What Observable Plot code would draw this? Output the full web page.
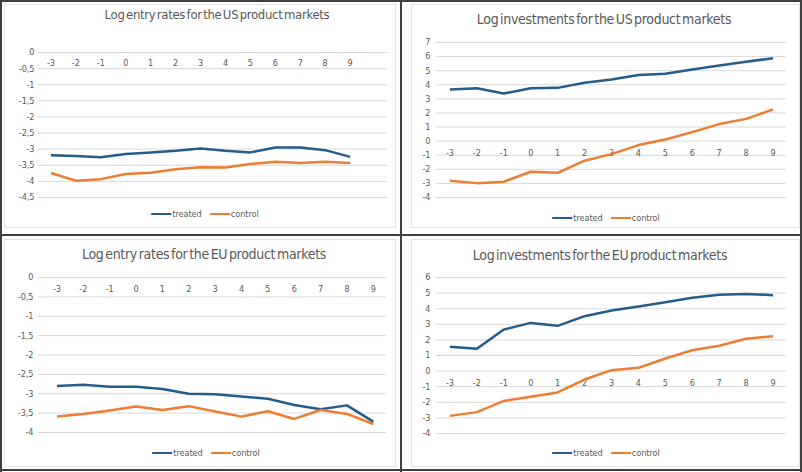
<!DOCTYPE html>
<html>
<head>
<meta charset="utf-8">
<script src="https://cdn.jsdelivr.net/npm/d3@7"></script>
<script src="https://cdn.jsdelivr.net/npm/@observablehq/plot@0.6"></script>
<style>
  html, body { margin: 0; padding: 0; background: #fff; }
  #board { position: relative; width: 802px; height: 472px; overflow: hidden; background: #fff;
           font-family: "Liberation Sans Narrow", "DejaVu Sans Condensed", "Liberation Sans", Arial, sans-serif; }
  .panel { position: absolute; width: 400px; height: 236px; }
  .panel svg { position: absolute; left: 0; top: 0; }
  .frame { position: absolute; border: 1px solid #e3e3e3; box-sizing: border-box; }
  .title { position: absolute; transform: translate(-50%, -50%); white-space: nowrap; color: #595959;
           letter-spacing: -0.3px; word-spacing: -2px; }
  .legend { position: absolute; transform: translate(-50%, -50%); display: flex; align-items: center;
            white-space: nowrap; font-size: 9px; color: #595959; }
  .legend .item { display: flex; align-items: center; margin: 0 4px; }
  .legend .swatch { width: 20px; height: 2.5px; margin-right: 1px; }
  .rule { position: absolute; background: #3f3f3f; }
</style>
</head>
<body>
<div id="board"></div>
<script>
// Event-time periods on the category axis
const periods = [-3, -2, -1, 0, 1, 2, 3, 4, 5, 6, 7, 8, 9];
const groups = ["treated", "control"];
const groupColors = ["#245c8a", "#ed7d31"];

// Log entry rates, US product markets
const usEntryTreated = [-3.19, -3.21, -3.25, -3.15, -3.10, -3.05, -2.98, -3.05, -3.10, -2.95, -2.95, -3.03, -3.24];
const usEntryControl = [-3.74, -3.98, -3.93, -3.77, -3.73, -3.62, -3.56, -3.57, -3.46, -3.39, -3.43, -3.39, -3.43];
const usEntryTicks = [0, -0.5, -1, -1.5, -2, -2.5, -3, -3.5, -4, -4.5];

// Log investments, US product markets
const usInvTreated = [3.66, 3.76, 3.38, 3.76, 3.78, 4.14, 4.37, 4.70, 4.78, 5.08, 5.37, 5.63, 5.89];
const usInvControl = [-2.81, -2.98, -2.88, -2.17, -2.25, -1.39, -0.92, -0.28, 0.12, 0.64, 1.21, 1.58, 2.25];
const usInvTicks = [7, 6, 5, 4, 3, 2, 1, 0, -1, -2, -3, -4];

// Log entry rates, EU product markets
const euEntryTreated = [-2.80, -2.77, -2.82, -2.82, -2.88, -3.00, -3.01, -3.07, -3.13, -3.29, -3.40, -3.30, -3.72];
const euEntryControl = [-3.59, -3.52, -3.43, -3.33, -3.42, -3.32, -3.46, -3.59, -3.45, -3.65, -3.42, -3.52, -3.78];
const euEntryTicks = [0, -0.5, -1, -1.5, -2, -2.5, -3, -3.5, -4];

// Log investments, EU product markets
const euInvTreated = [1.56, 1.43, 2.66, 3.09, 2.90, 3.52, 3.88, 4.14, 4.42, 4.70, 4.89, 4.95, 4.87];
const euInvControl = [-2.87, -2.63, -1.91, -1.65, -1.37, -0.54, 0.06, 0.21, 0.81, 1.34, 1.62, 2.07, 2.24];
const euInvTicks = [6, 5, 4, 3, 2, 1, 0, -1, -2, -3, -4];

const board = document.getElementById("board");
const decimalComma = d => String(d).replace(".", ",");

function tidy(treated, control) {
  return [
    ...periods.map((p, i) => ({period: p, value: treated[i], group: "treated"})),
    ...periods.map((p, i) => ({period: p, value: control[i], group: "control"}))
  ];
}

function addPanel(cfg) {
  const box = document.createElement("div");
  box.className = "panel";
  box.style.left = cfg.left + "px";
  box.style.top = cfg.top + "px";
  board.appendChild(box);

  const frame = document.createElement("div");
  frame.className = "frame";
  Object.assign(frame.style, cfg.frame);
  box.appendChild(frame);

  const ticks = cfg.ticks;
  const chart = Plot.plot({
    width: 400,
    height: 236,
    marginLeft: cfg.m[0],
    marginRight: cfg.m[1],
    marginTop: cfg.m[2],
    marginBottom: cfg.m[3],
    style: {background: "transparent", fontFamily: "inherit", fontSize: "9px", color: "#595959"},
    x: {domain: cfg.xDomain, axis: null},
    y: {domain: [d3.min(ticks), d3.max(ticks)], axis: null},
    color: {domain: groups, range: groupColors},
    marks: [
      Plot.gridY(ticks, {stroke: "#d9d9d9", strokeOpacity: 1, strokeWidth: 1}),
      Plot.axisY(ticks, {tickSize: 0, tickPadding: cfg.pad, tickFormat: decimalComma, label: null, fill: "#595959"}),
      Plot.text(periods, {x: d => d, y: 0, dy: cfg.catDy, text: d => String(d), fill: "#595959", fontSize: 9}),
      Plot.line(tidy(cfg.treated, cfg.control), {
        x: "period", y: "value", stroke: "group", z: "group", strokeWidth: 2.5,
        strokeLinejoin: "round", strokeLinecap: "butt"
      })
    ]
  });
  box.appendChild(chart);

  const title = document.createElement("div");
  title.className = "title";
  title.textContent = cfg.title;
  title.style.left = cfg.titleAt[0] + "px";
  title.style.top = cfg.titleAt[1] + "px";
  title.style.fontSize = cfg.titleSize + "px";
  box.appendChild(title);

  const legend = document.createElement("div");
  legend.className = "legend";
  legend.style.left = cfg.legendAt[0] + "px";
  legend.style.top = cfg.legendAt[1] + "px";
  groups.forEach((g, i) => {
    const item = document.createElement("div");
    item.className = "item";
    const sw = document.createElement("div");
    sw.className = "swatch";
    sw.style.background = groupColors[i];
    const lab = document.createElement("span");
    lab.textContent = g;
    item.appendChild(sw);
    item.appendChild(lab);
    legend.appendChild(item);
  });
  box.appendChild(legend);
}

addPanel({
  left: 0, top: 0, title: "Log entry rates for the US product markets", titleSize: 13, titleAt: [217, 14],
  m: [38, 13, 52, 39], xDomain: [-3.5, 10.5], ticks: usEntryTicks, pad: 4, catDy: 11,
  treated: usEntryTreated, control: usEntryControl, legendAt: [205, 214],
  frame: {left: "4px", top: "4px", width: "392px", height: "224px"}
});
addPanel({
  left: 402, top: 0, title: "Log investments for the US product markets", titleSize: 14, titleAt: [202, 19],
  m: [34, 16, 42, 39], xDomain: [-3.5, 9.5], ticks: usInvTicks, pad: 6, catDy: 12,
  treated: usInvTreated, control: usInvControl, legendAt: [204, 218],
  frame: {left: "9px", top: "4px", width: "389px", height: "224px"}
});
addPanel({
  left: 0, top: 236, title: "Log entry rates for the EU product markets", titleSize: 14, titleAt: [204, 18],
  m: [38, 14, 41, 40], xDomain: [-3.7, 9.5], ticks: euEntryTicks, pad: 5, catDy: 12,
  treated: euEntryTreated, control: euEntryControl, legendAt: [206, 217],
  frame: {left: "4px", top: "3px", width: "392px", height: "228px"}
});
addPanel({
  left: 402, top: 236, title: "Log investments for the EU product markets", titleSize: 14, titleAt: [198, 19],
  m: [34, 16, 41, 39], xDomain: [-3.5, 9.5], ticks: euInvTicks, pad: 6, catDy: 12,
  treated: euInvTreated, control: euInvControl, legendAt: [204, 217],
  frame: {left: "9px", top: "3px", width: "389px", height: "228px"}
});

// Table rules around and between the four charts
[
  {left: 0, top: 0, width: 802, height: 2},
  {left: 0, top: 0, width: 2, height: 472},
  {left: 800, top: 0, width: 2, height: 472},
  {left: 0, top: 469, width: 802, height: 2},
  {left: 0, top: 234, width: 802, height: 2},
  {left: 400, top: 0, width: 2, height: 472}
].forEach(r => {
  const d = document.createElement("div");
  d.className = "rule";
  d.style.left = r.left + "px";
  d.style.top = r.top + "px";
  d.style.width = r.width + "px";
  d.style.height = r.height + "px";
  board.appendChild(d);
});
</script>
</body>
</html>
